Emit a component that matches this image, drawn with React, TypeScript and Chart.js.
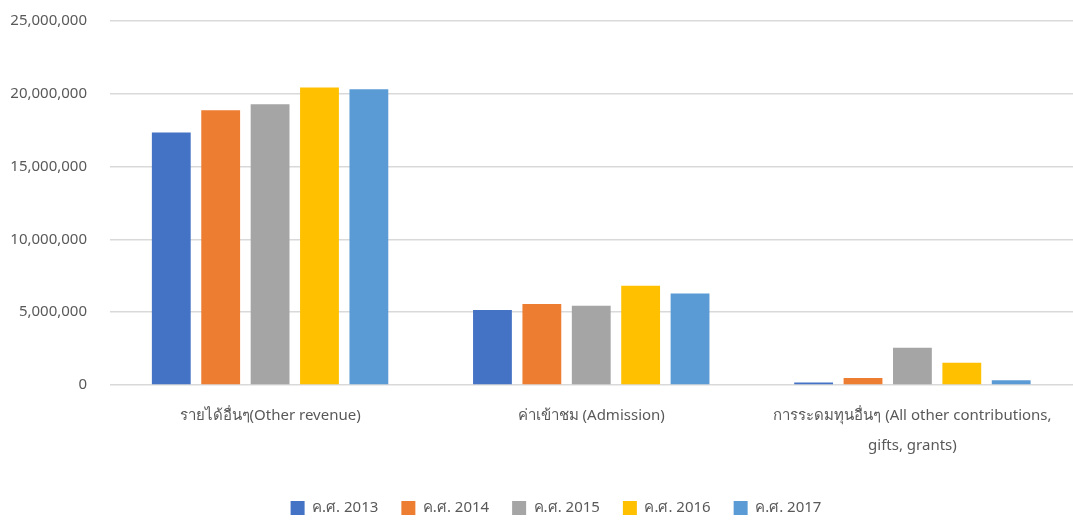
import React, { useEffect, useRef } from "react";
import { Chart, registerables } from "chart.js";

Chart.register(...registerables);

const categories: (string | string[])[] = [
  "รายได้อื่นๆ(Other revenue)",
  "ค่าเข้าชม (Admission)",
  ["การระดมทุนอื่นๆ (All other contributions,", "gifts, grants)"],
];

const seriesNames = ["ค.ศ. 2013", "ค.ศ. 2014", "ค.ศ. 2015", "ค.ศ. 2016", "ค.ศ. 2017"];
const seriesColors = ["#4472C4", "#ED7D31", "#A5A5A5", "#FFC000", "#5B9BD5"];

const values2013 = [17350000, 5150000, 170000];
const values2014 = [18870000, 5560000, 480000];
const values2015 = [19280000, 5440000, 2550000];
const values2016 = [20430000, 6820000, 1520000];
const values2017 = [20320000, 6290000, 320000];

const seriesValues = [values2013, values2014, values2015, values2016, values2017];

const yTicks = [0, 5000000, 10000000, 15000000, 20000000, 25000000];

const FONT = "'Noto Sans', sans-serif";
const TEXT = "#595959";

const legendShift = {
  id: "legendShift",
  afterLayout(chart: any) {
    if (chart.legend) {
      chart.legend.left += 35;
    }
  },
};

export default function App() {
  const ref = useRef<HTMLCanvasElement | null>(null);

  useEffect(() => {
    if (!ref.current) return;
    const chart = new Chart(ref.current, {
      type: "bar",
      data: {
        labels: categories,
        datasets: seriesNames.map((name, i) => ({
          label: name,
          data: seriesValues[i],
          backgroundColor: seriesColors[i],
          borderWidth: 0,
          categoryPercentage: 0.769,
          barPercentage: 0.786,
        })),
      },
      plugins: [legendShift],
      options: {
        responsive: false,
        animation: false,
        layout: { padding: { top: 21, right: -4, left: 0, bottom: -4.5 } },
        plugins: {
          tooltip: { enabled: false },
          legend: {
            position: "bottom",
            labels: {
              boxWidth: 14,
              boxHeight: 14,
              padding: 23,
              color: TEXT,
              font: { family: FONT, size: 15 },
            },
          },
        },
        scales: {
          x: {
            afterFit: (s: any) => {
              s.height = 92.5;
            },
            grid: { display: false, drawTicks: false },
            border: { display: false },
            ticks: {
              color: TEXT,
              font: { family: FONT, size: 15, lineHeight: 2.05 },
              padding: 15,
              maxRotation: 0,
              autoSkip: false,
            },
          },
          y: {
            min: 0,
            max: 25000000,
            afterFit: (s: any) => {
              s.width = 109.5;
            },
            afterBuildTicks: (s: any) => {
              s.ticks = yTicks.map((v) => ({ value: v }));
            },
            grid: {
              color: "#D9D9D9",
              lineWidth: 1.5,
              drawTicks: true,
              tickLength: 22.5,
              tickColor: "rgba(0,0,0,0)",
            },
            border: { display: false },
            ticks: {
              color: TEXT,
              font: { family: FONT, size: 15 },
              padding: 0,
              callback: (v: any) => Number(v).toLocaleString("en-US"),
            },
          },
        },
      },
    });
    return () => chart.destroy();
  }, []);

  return (
    <div style={{ position: "absolute", left: 0, top: 0, width: 1073, height: 521, background: "#fff" }}>
      <canvas ref={ref} width={1073} height={521} style={{ display: "block" }} />
    </div>
  );
}
